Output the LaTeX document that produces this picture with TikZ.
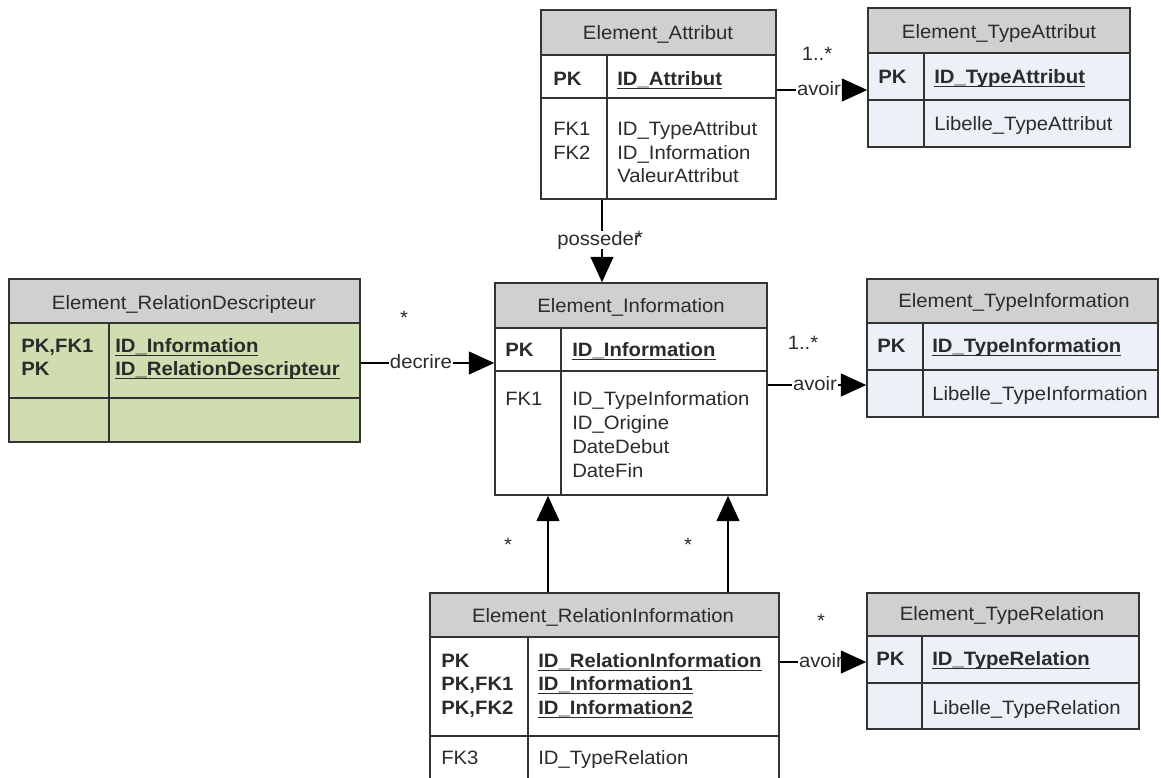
\documentclass[tikz,border=0pt]{standalone}
\usepackage{fontspec}
\setmainfont{Liberation Sans}[FakeStretch=1.05]
\usetikzlibrary{arrows.meta,fit}
\definecolor{hdr}{HTML}{D0D0D0}
\definecolor{grn}{HTML}{D0DDB0}
\definecolor{lblu}{HTML}{ECF1F8}
\definecolor{ln}{HTML}{333333}
\definecolor{tx}{HTML}{2B2B2B}
\newcommand\myul[1]{\setbox0=\hbox{#1}\rlap{\rule[-3pt]{\wd0}{0.9pt}}\box0}
\newcommand\fsz{\fontsize{14.5}{17.5}\selectfont}
\newcommand\ertab[9]{%
  \fill[hdr] (#2,#4) rectangle (#3,#5);
  \fill[#9] (#2,#5) rectangle (#3,#7);
  \draw[rowline] (#2,#5) -- (#3,#5) (#2,#6) -- (#3,#6) (#8,#5) -- (#8,#7);
  \node[frame, fit={(#2,#4) (#3,#7)}] (#1) {};
}
\tikzset{
  rowline/.style={draw=ln, line width=1.1pt},
  frame/.style={draw=ln, line width=1.1pt, inner sep=0pt},
  hd/.style={anchor=base, inner sep=0pt, font=\fsz, text=tx},
  txt/.style={anchor=base west, inner sep=0pt, font=\fsz, text=tx},
  key/.style={anchor=base west, inner sep=0pt, font=\fsz\bfseries, text=tx},
  lbl/.style={anchor=base, inner sep=0.5pt, font=\fsz, text=tx},
  mult/.style={anchor=center, inner sep=0pt, font=\fsz, text=tx},
  wire/.style={draw=black, line width=1.5pt},
  conn/.style={wire, -{Triangle[length=19pt,width=17pt]}},
}
\begin{document}
\begin{tikzpicture}[x=0.75pt,y=-0.75pt]
\useasboundingbox (0,0) rectangle (1161,778);
\clip (0,0) rectangle (1161,778);
\fill[white] (0,0) rectangle (1161,778);

% tables
\ertab{attr}{541}{776}{10}{55}{98}{199}{607}{white}
\ertab{tattr}{868}{1130}{8}{53}{100}{147}{924}{lblu}
\ertab{rdesc}{9}{360}{279}{323}{398}{442}{109}{grn}
\ertab{info}{495}{767}{283}{328}{371}{495}{561}{white}
\ertab{tinfo}{867}{1158}{279}{323}{370}{417}{923}{lblu}
\ertab{rinfo}{430}{779}{593}{637}{736}{785}{528}{white}
\ertab{trel}{867}{1139}{593}{636}{683}{729}{922}{lblu}

% Element_Attribut
\node[hd] (attrH) at (658,39) {Element\_Attribut};
\node[key] (attrK) at (553,85) {PK};
\node[key] (attrP) at (617,85) {\myul{ID\_Attribut}};
\node[txt] (attrF1) at (553,135) {FK1};
\node[txt] (attrF2) at (553,159) {FK2};
\node[txt] (attrA1) at (617,135) {ID\_TypeAttribut};
\node[txt] (attrA2) at (617,159) {ID\_Information};
\node[txt] (attrA3) at (617,182) {ValeurAttribut};

% Element_TypeAttribut
\node[hd] (tattrH) at (999,38) {Element\_TypeAttribut};
\node[key] (tattrK) at (878,83) {PK};
\node[key] (tattrP) at (934,83) {\myul{ID\_TypeAttribut}};
\node[txt] (tattrA1) at (934,130) {Libelle\_TypeAttribut};

% Element_RelationDescripteur
\node[hd] (rdescH) at (184,309) {Element\_RelationDescripteur};
\node[key] (rdescK1) at (21,352) {PK,FK1};
\node[key] (rdescK2) at (21,375) {PK};
\node[key] (rdescP1) at (115,352) {\myul{ID\_Information}};
\node[key] (rdescP2) at (115,375) {\myul{ID\_RelationDescripteur}};

% Element_Information
\node[hd] (infoH) at (631,312) {Element\_Information};
\node[key] (infoK) at (505,356) {PK};
\node[key] (infoP) at (572,356) {\myul{ID\_Information}};
\node[txt] (infoF1) at (505,405) {FK1};
\node[txt] (infoA1) at (572,405) {ID\_TypeInformation};
\node[txt] (infoA2) at (572,429) {ID\_Origine};
\node[txt] (infoA3) at (572,453) {DateDebut};
\node[txt] (infoA4) at (572,477) {DateFin};

% Element_TypeInformation
\node[hd] (tinfoH) at (1014,307) {Element\_TypeInformation};
\node[key] (tinfoK) at (877,352) {PK};
\node[key] (tinfoP) at (932,352) {\myul{ID\_TypeInformation}};
\node[txt] (tinfoA1) at (932,400) {Libelle\_TypeInformation};

% Element_RelationInformation
\node[hd] (rinfoH) at (603,622) {Element\_RelationInformation};
\node[key] (rinfoK1) at (441,667) {PK};
\node[key] (rinfoK2) at (441,690) {PK,FK1};
\node[key] (rinfoK3) at (441,714) {PK,FK2};
\node[key] (rinfoP1) at (538,667) {\myul{ID\_RelationInformation}};
\node[key] (rinfoP2) at (538,690) {\myul{ID\_Information1}};
\node[key] (rinfoP3) at (538,714) {\myul{ID\_Information2}};
\node[txt] (rinfoF3) at (441,764) {FK3};
\node[txt] (rinfoA1) at (538,764) {ID\_TypeRelation};

% Element_TypeRelation
\node[hd] (trelH) at (1002,620) {Element\_TypeRelation};
\node[key] (trelK) at (876,665) {PK};
\node[key] (trelP) at (932,665) {\myul{ID\_TypeRelation}};
\node[txt] (trelA1) at (932,714) {Libelle\_TypeRelation};

% lanes
\coordinate (lA) at (0,90);
\coordinate (lD) at (0,363);
\coordinate (lI) at (0,385);
\coordinate (lR) at (0,662);
\coordinate (vP) at (602,0);
\coordinate (vL) at (548,0);
\coordinate (vR) at (728,0);

% connector labels
\node[lbl] (labA) at (819,95) {avoir};
\node[mult] (mulA) at (817,54) {1..*};
\node[mult] (labP) at (599,240) {posseder};
\node[mult] (mulP) at (639,238) {*};
\node[lbl] (labD) at (421,368) {decrire};
\node[mult] (mulD) at (404,318) {*};
\node[lbl] (labI) at (815,390) {avoir};
\node[mult] (mulI) at (803,343) {1..*};
\node[mult] (mulL) at (508,545) {*};
\node[mult] (mulR) at (688,545) {*};
\node[lbl] (labR) at (821,667) {avoir};
\node[mult] (mulT) at (821,621) {*};

% connectors
\draw[wire] (attr.east |- lA) -- (labA.west |- lA);
\draw[conn] (labA.east |- lA) -- (tattr.west |- lA);
\draw[wire] (attr.south -| vP) -- (labP.north -| vP);
\draw[conn] (labP.south -| vP) -- (info.north -| vP);
\draw[wire] (rdesc.east |- lD) -- (labD.west |- lD);
\draw[conn] (labD.east |- lD) -- (info.west |- lD);
\draw[wire] (info.east |- lI) -- (labI.west |- lI);
\draw[conn] (labI.east |- lI) -- (tinfo.west |- lI);
\draw[conn] (rinfo.north -| vL) -- (info.south -| vL);
\draw[conn] (rinfo.north -| vR) -- (info.south -| vR);
\draw[wire] (rinfo.east |- lR) -- (labR.west |- lR);
\draw[conn] (labR.east |- lR) -- (trel.west |- lR);
\end{tikzpicture}
\end{document}
